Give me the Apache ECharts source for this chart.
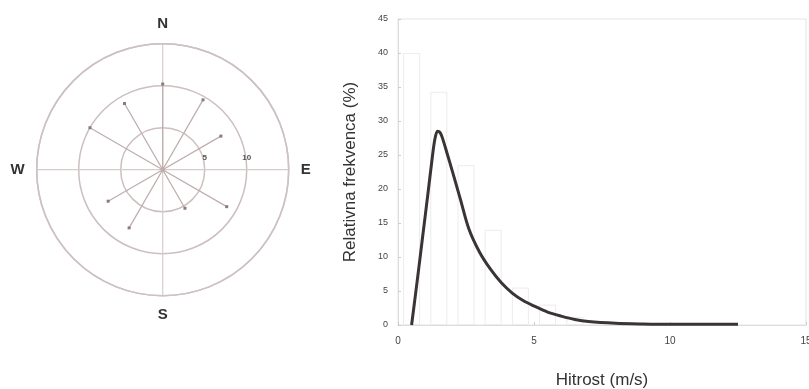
<!DOCTYPE html>
<html><head><meta charset="utf-8">
<script src="https://cdn.jsdelivr.net/npm/echarts@6/dist/echarts.min.js"></script>
<style>html,body{margin:0;padding:0;background:#fff}#c{width:809px;height:389px}</style>
</head><body><div id="c"></div>
<script>
// Wind rose (compass directions in degrees, speeds in m/s)
const roseDirections = [0, 30, 60, 120, 150, 210, 240, 300, 330];
const roseSpeeds = [10.2, 9.6, 8.0, 8.8, 5.3, 8.0, 7.5, 10.0, 9.1];
const compassLabels = {0: 'N', 90: 'E', 180: 'S', 270: 'W'};
const roseRingLabels = [5, 10];

// Histogram (bin centres in m/s, relative frequency %)
const binCentres = [0.5, 1.5, 2.5, 3.5, 4.5, 5.5, 6.5];
const binFreq = [40, 34.3, 23.5, 14, 5.5, 3, 1.2];

// Fitted distribution curve
const curveX = [0.5, 0.7, 0.9, 1.1, 1.25, 1.35, 1.45, 1.55, 1.65, 1.8, 2.0, 2.3, 2.6, 3.0, 3.4, 3.8, 4.2, 4.6, 5.0, 5.5, 6.0, 6.5, 7.0, 8.0, 9.0, 10.0, 11.0, 12.5];
const curveY = [0, 6.3, 12.8, 19.3, 24.3, 27.2, 28.5, 28.3, 27.3, 25.3, 22.6, 18.4, 14.2, 10.7, 8.2, 6.2, 4.7, 3.6, 2.8, 1.9, 1.3, 0.8, 0.5, 0.25, 0.15, 0.1, 0.1, 0.1];

const xTicks = [0, 5, 10, 15];
const yTicks = [0, 5, 10, 15, 20, 25, 30, 35, 40, 45];

const spokeData = [];
roseDirections.forEach((d, i) => {
  const a = d < 90 ? d + 360 : d;
  spokeData.push({value: [0, a], symbol: 'none'});
  spokeData.push({value: [roseSpeeds[i], a]});
  spokeData.push('-');
});

const FONT = 'Liberation Sans';
const chart = echarts.init(document.getElementById('c'), null, {renderer: 'canvas'});
chart.setOption({
  animation: false,
  backgroundColor: '#fff',
  polar: {center: [162.7, 169.7], radius: 126},
  angleAxis: {
    type: 'value', min: 90, max: 450, interval: 90, startAngle: 0, clockwise: true,
    axisLine: {show: true, lineStyle: {color: '#cdc2c2', width: 1.5}},
    axisTick: {show: false},
    splitLine: {show: true, lineStyle: {color: '#d6cccc', width: 1.2}},
    axisLabel: {
      margin: 12, color: '#333', fontFamily: FONT, fontWeight: 'bold', fontSize: 15,
      formatter: v => (v === 450 ? '' : compassLabels[v % 360])
    }
  },
  radiusAxis: {
    type: 'value', min: 0, max: 15, interval: 5,
    axisLine: {show: false}, axisTick: {show: false},
    splitLine: {show: true, lineStyle: {color: '#cdbfbf', width: 1.5}},
    axisLabel: {
      margin: 8, color: '#555', fontFamily: FONT, fontWeight: 'bold', fontSize: 8,
      formatter: v => (roseRingLabels.includes(v) ? String(v) : '')
    }
  },
  grid: {left: 398, top: 19, right: 3, bottom: 64, outerBoundsMode: 'none', show: true, borderColor: '#e4e4e4', borderWidth: 1},
  xAxis: {
    type: 'value', min: 0, max: 15, interval: 5,
    name: 'Hitrost (m/s)', nameLocation: 'middle', nameGap: 47,
    nameTextStyle: {color: '#333', fontFamily: FONT, fontSize: 17},
    axisLine: {lineStyle: {color: '#dddddd'}},
    axisTick: {inside: true, length: 3, lineStyle: {color: '#cccccc'}},
    splitLine: {show: false},
    axisLabel: {color: '#444', fontFamily: FONT, fontSize: 10, margin: 11,
      formatter: v => (xTicks.includes(v) ? String(v) : '')}
  },
  yAxis: {
    type: 'value', min: 0, max: 45, interval: 5,
    name: 'Relativna frekvenca (%)', nameLocation: 'middle', nameGap: 39,
    nameTextStyle: {color: '#333', fontFamily: FONT, fontSize: 17},
    axisLine: {show: true, lineStyle: {color: '#dddddd'}},
    axisTick: {inside: true, length: 3, lineStyle: {color: '#cccccc'}},
    splitLine: {show: false},
    axisLabel: {color: '#444', fontFamily: FONT, fontSize: 9, margin: 10,
      formatter: v => (yTicks.includes(v) ? String(v) : '')}
  },
  series: [
    {
      type: 'line', coordinateSystem: 'polar', data: spokeData,
      connectNulls: false, showSymbol: true, symbol: 'rect', symbolSize: 3,
      lineStyle: {color: '#bfaeae', width: 1.3},
      itemStyle: {color: '#8c7b7b'}
    },
    {
      type: 'scatter', coordinateSystem: 'polar', data: [[0, 90]],
      symbol: 'circle', symbolSize: 4, itemStyle: {color: '#9a8a8a'}
    },
    {
      type: 'bar', xAxisIndex: 0, yAxisIndex: 0,
      data: binCentres.map((c, i) => [c, binFreq[i]]),
      barWidth: 17,
      itemStyle: {color: 'rgba(255,255,255,0)', borderColor: '#ececec', borderWidth: 1}
    },
    {
      type: 'line', xAxisIndex: 0, yAxisIndex: 0,
      data: curveX.map((x, i) => [x, curveY[i]]),
      smooth: 0.3, showSymbol: false,
      lineStyle: {color: '#3a3434', width: 3}
    }
  ]
});
</script></body></html>
